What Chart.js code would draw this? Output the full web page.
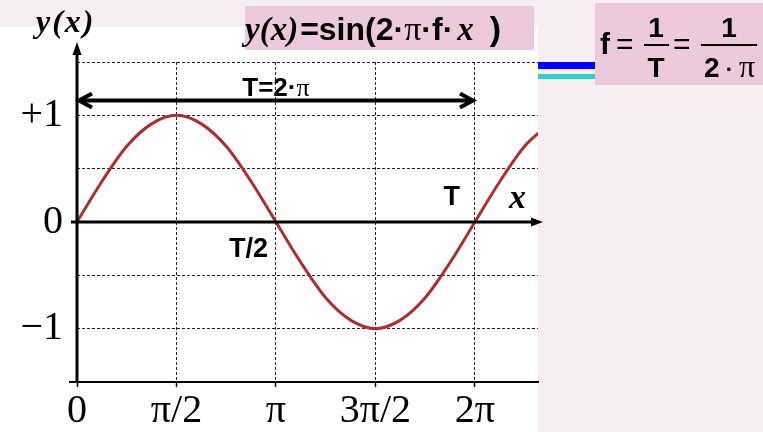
<!DOCTYPE html>
<html>
<head>
<meta charset="utf-8">
<script src="https://cdn.jsdelivr.net/npm/chart.js@4/dist/chart.umd.min.js"></script>
<style>
  html, body { margin: 0; padding: 0; background: #f9edf4; }
  #wrap { width: 763px; height: 432px; }
</style>
</head>
<body>
<div id="wrap"><canvas id="sineChart" width="763" height="432"></canvas></div>
<script>
// x is measured in units of pi
const xPi = [0, 0.125, 0.25, 0.375, 0.5, 0.625, 0.75, 0.875, 1, 1.125, 1.25, 1.375,
             1.5, 1.625, 1.75, 1.875, 2, 2.125, 2.25, 2.375];
const yVals = [0, 0.38, 0.71, 0.92, 1, 0.92, 0.71, 0.38, 0, -0.38, -0.71, -0.92,
               -1, -0.92, -0.71, -0.38, 0, 0.38, 0.71, 0.92];

const xTickVals = [0, 0.5, 1, 1.5, 2];
const xTickLabels = ['0', 'π/2', 'π', '3π/2', '2π'];
const yTickVals = [1, 0, -1];
const yTickLabels = ['+1', '0', '−1'];

// period arrow: from 0 to 2π, drawn a bit above the peak
const periodSpan = [0, 2];
const periodArrowY = 1.14;

const PAGE = '#f9edf4';
const BOX = '#ecc9dc';
const SERIF = '"Liberation Serif", "DejaVu Serif", serif';
const SANS = '"Liberation Sans", Arial, sans-serif';
const ITAL = 'italic bold ';

function pickLabel(vals, labels, v) {
  for (let i = 0; i < vals.length; i++) {
    if (Math.abs(vals[i] - v) < 1e-6) return labels[i];
  }
  return '';
}

// draws a run of text pieces with different fonts, left to right
function drawRun(ctx, x, y, pieces) {
  ctx.textAlign = 'left';
  ctx.textBaseline = 'alphabetic';
  for (const p of pieces) {
    ctx.font = p.font;
    ctx.fillText(p.text, x + (p.dx || 0), y);
    x += ctx.measureText(p.text).width + (p.dx || 0);
  }
  return x;
}

const backdrop = {
  id: 'backdrop',
  beforeDraw(chart) {
    const ctx = chart.ctx;
    const area = chart.chartArea;
    ctx.save();
    ctx.fillStyle = PAGE;
    ctx.fillRect(0, 0, chart.width, chart.height);
    ctx.fillStyle = '#ffffff';
    ctx.fillRect(0, 27, area.right, chart.height - 27);
    ctx.restore();
  }
};

const annotations = {
  id: 'annotations',
  afterDatasetsDraw(chart) {
    const ctx = chart.ctx;
    const xs = chart.scales.x;
    const ys = chart.scales.y;
    const x0 = xs.getPixelForValue(0);
    const y0 = ys.getPixelForValue(0);
    ctx.save();
    ctx.strokeStyle = '#000';
    ctx.fillStyle = '#000';

    // bottom axis runs a little past the y axis
    ctx.lineWidth = 2;
    ctx.beginPath();
    ctx.moveTo(x0 - 8, chart.chartArea.bottom);
    ctx.lineTo(x0, chart.chartArea.bottom);
    ctx.stroke();

    // y axis with arrow
    ctx.lineWidth = 3;
    ctx.beginPath();
    ctx.moveTo(x0, chart.chartArea.bottom + 1);
    ctx.lineTo(x0, 50);
    ctx.stroke();
    ctx.beginPath();
    ctx.moveTo(x0, 42);
    ctx.lineTo(x0 - 4.5, 55);
    ctx.lineTo(x0 + 4.5, 55);
    ctx.closePath();
    ctx.fill();

    // x axis through zero with arrow
    const xEnd = chart.chartArea.right + 5;
    ctx.beginPath();
    ctx.moveTo(x0 - 6, y0);
    ctx.lineTo(xEnd - 8, y0);
    ctx.stroke();
    ctx.beginPath();
    ctx.moveTo(xEnd, y0);
    ctx.lineTo(xEnd - 12, y0 - 4.5);
    ctx.lineTo(xEnd - 12, y0 + 4.5);
    ctx.closePath();
    ctx.fill();

    // period arrow T = 2π
    const pa = xs.getPixelForValue(periodSpan[0]) + 2;
    const pb = xs.getPixelForValue(periodSpan[1]) - 2;
    const py = ys.getPixelForValue(periodArrowY);
    ctx.lineWidth = 4;
    ctx.lineJoin = 'miter';
    ctx.beginPath();
    ctx.moveTo(pa, py);
    ctx.lineTo(pb, py);
    ctx.stroke();
    ctx.beginPath();
    ctx.moveTo(pa + 13, py - 7);
    ctx.lineTo(pa, py);
    ctx.lineTo(pa + 13, py + 7);
    ctx.moveTo(pb - 13, py - 7);
    ctx.lineTo(pb, py);
    ctx.lineTo(pb - 13, py + 7);
    ctx.stroke();

    // labels on the plot
    const mid = (pa + pb) / 2;
    ctx.font = 'bold 26px ' + SANS;
    const w1 = ctx.measureText('T=2·').width;
    ctx.font = '26px ' + SERIF;
    const w2 = ctx.measureText('π').width;
    drawRun(ctx, mid - (w1 + w2) / 2, py - 4, [
      { text: 'T=2·', font: 'bold 26px ' + SANS },
      { text: 'π', font: '26px ' + SERIF }
    ]);

    ctx.font = 'bold 27px ' + SANS;
    ctx.textAlign = 'right';
    ctx.fillText('T/2', xs.getPixelForValue(1) - 8, y0 + 35);
    ctx.fillText('T', xs.getPixelForValue(2) - 15, y0 - 17);

    ctx.font = ITAL + '34px ' + SERIF;
    ctx.textAlign = 'left';
    ctx.fillText('x', 509, y0 - 14);
    ctx.restore();
  },
  afterDraw(chart) {
    const ctx = chart.ctx;
    ctx.save();
    ctx.fillStyle = '#000';
    ctx.textBaseline = 'alphabetic';

    // y(x) axis caption
    ctx.letterSpacing = '2px';
    ctx.font = ITAL + '32px ' + SERIF;
    ctx.fillText('y(x)', 36, 32);
    ctx.letterSpacing = '0px';

    // formula title box
    ctx.fillStyle = BOX;
    ctx.fillRect(245, 6, 289, 44);
    ctx.fillStyle = '#000';
    drawRun(ctx, 245, 40, [
      { text: 'y(x)', font: ITAL + '33px ' + SERIF },
      { text: '=sin(2·', font: 'bold 32px ' + SANS, dx: 2 },
      { text: 'π', font: '34px ' + SERIF },
      { text: '·f·', font: 'bold 32px ' + SANS },
      { text: 'x', font: ITAL + '33px ' + SERIF, dx: 4 },
      { text: ')', font: 'bold 34px ' + SANS, dx: 16 }
    ]);

    // blue and cyan strokes
    ctx.fillStyle = '#0000ff';
    ctx.fillRect(538, 62, 57, 7);
    ctx.fillStyle = '#33cccc';
    ctx.fillRect(538, 74, 57, 5);

    // frequency box
    ctx.fillStyle = BOX;
    ctx.fillRect(595, 3, 168, 82);
    ctx.fillStyle = '#000';
    ctx.textAlign = 'left';
    ctx.font = 'bold 30px ' + SANS;
    ctx.fillText('f', 600, 54);
    ctx.font = '30px ' + SANS;
    ctx.fillText('=', 616, 54);
    ctx.fillText('=', 673, 54);
    ctx.fillRect(644, 44, 25, 2);
    ctx.fillRect(701, 44, 56, 2);
    ctx.textAlign = 'center';
    ctx.font = 'bold 28px ' + SANS;
    ctx.fillText('1', 656, 37);
    ctx.fillText('T', 656, 77);
    ctx.fillText('1', 729, 37);
    ctx.textAlign = 'left';
    drawRun(ctx, 704, 77, [
      { text: '2', font: 'bold 28px ' + SANS },
      { text: ' · ', font: 'bold 22px ' + SANS },
      { text: 'π', font: '32px ' + SERIF }
    ]);
    ctx.restore();
  }
};

new Chart(document.getElementById('sineChart'), {
  type: 'line',
  data: {
    datasets: [{
      data: xPi.map((x, i) => ({ x: x, y: yVals[i] })),
      borderColor: '#aa2f33',
      borderWidth: 3,
      pointRadius: 0,
      cubicInterpolationMode: 'monotone',
      fill: false
    }]
  },
  options: {
    responsive: false,
    animation: false,
    devicePixelRatio: 1,
    layout: { padding: { top: 62, right: 225, left: 0, bottom: 0 } },
    plugins: { legend: { display: false }, tooltip: { enabled: false } },
    scales: {
      x: {
        type: 'linear',
        min: 0,
        max: 2.317,
        afterBuildTicks: s => { s.ticks = xTickVals.map(v => ({ value: v })); },
        afterFit: s => { s.height = 50; },
        ticks: {
          callback: v => pickLabel(xTickVals, xTickLabels, v),
          font: { family: SERIF, size: 40 },
          color: '#000',
          padding: 0,
          maxRotation: 0,
          autoSkip: false
        },
        grid: {
          color: '#222',
          lineWidth: 1,
          drawTicks: true,
          tickLength: 5,
          tickColor: '#000',
          tickWidth: 1.5,
          tickBorderDash: []
        },
        border: { display: true, color: '#000', width: 2, dash: [3, 2] }
      },
      y: {
        min: -1.5,
        max: 1.5,
        afterFit: s => { s.width = 77; },
        ticks: {
          stepSize: 0.5,
          callback: v => pickLabel(yTickVals, yTickLabels, v),
          font: { family: SERIF, size: 40 },
          color: '#000',
          padding: 14
        },
        grid: { color: '#222', lineWidth: 1, drawTicks: false },
        border: { display: false, dash: [3, 2] }
      }
    }
  },
  plugins: [backdrop, annotations]
});
</script>
</body>
</html>
